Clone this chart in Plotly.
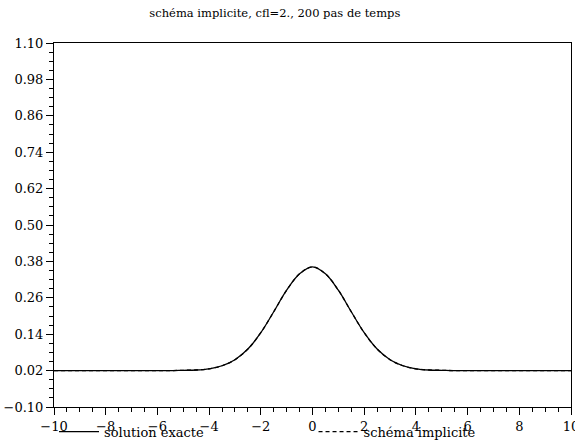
import plotly.graph_objects as go

# values
x_vals = [-10, -9, -8, -7, -6, -5.5, -5, -4.5, -4, -3.5, -3, -2.5, -2, -1.5, -1, -0.5,
          0, 0.5, 1, 1.5, 2, 2.5, 3, 3.5, 4, 4.5, 5, 5.5, 6, 7, 8, 9, 10]
exact = [0.020, 0.020, 0.020, 0.020, 0.020, 0.020, 0.021, 0.022, 0.026, 0.036, 0.056, 0.091,
         0.145, 0.214, 0.285, 0.339, 0.362, 0.339, 0.285, 0.214, 0.145, 0.091, 0.056, 0.036,
         0.026, 0.022, 0.021, 0.020, 0.020, 0.020, 0.020, 0.020, 0.020]
implicit = [0.020, 0.020, 0.020, 0.020, 0.020, 0.020, 0.021, 0.022, 0.026, 0.036, 0.056, 0.091,
            0.145, 0.214, 0.285, 0.339, 0.362, 0.339, 0.285, 0.214, 0.145, 0.091, 0.056, 0.036,
            0.026, 0.022, 0.021, 0.020, 0.020, 0.020, 0.020, 0.020, 0.020]

y_ticks = [-0.10, 0.02, 0.14, 0.26, 0.38, 0.50, 0.62, 0.74, 0.86, 0.98, 1.10]
y_labels = ["\u22120.10", "0.02", "0.14", "0.26", "0.38", "0.50", "0.62", "0.74", "0.86", "0.98", "1.10"]
x_ticks = [-10, -8, -6, -4, -2, 0, 2, 4, 6, 8, 10]
x_labels = ["\u221210", "\u22128", "\u22126", "\u22124", "\u22122", "0", "2", "4", "6", "8", "10"]

FONT = "DejaVu Serif"

fig = go.Figure()
fig.add_trace(go.Scatter(x=x_vals, y=exact, mode="lines", name="solution exacte",
                         legend="legend",
                         line=dict(color="black", width=1.3, shape="spline")))
fig.add_trace(go.Scatter(x=x_vals, y=implicit, mode="lines", name="schéma implicite",
                         legend="legend2",
                         line=dict(color="black", width=1.3, dash="4px,3px", shape="spline")))

leg_common = dict(orientation="h", yanchor="middle", y=-0.068, xanchor="left",
                  itemwidth=40, font=dict(family=FONT, size=13, color="black"),
                  bgcolor="rgba(0,0,0,0)")

fig.update_layout(
    width=575, height=441,
    margin=dict(l=54, r=4, t=43, b=34, autoexpand=False),
    paper_bgcolor="white", plot_bgcolor="white",
    font=dict(family=FONT, size=13, color="black"),
    title=dict(text="schéma implicite, cfl=2., 200 pas de temps", x=0.478, xanchor="center",
               y=0.971, yanchor="middle", font=dict(family=FONT, size=11.5, color="black")),
    showlegend=True,
    legend=dict(x=0.0, **leg_common),
    legend2=dict(x=0.502, **leg_common),
)
fig.update_xaxes(range=[-10, 10], tickvals=x_ticks, ticktext=x_labels,
                 showline=True, linecolor="black", linewidth=1, mirror=True,
                 ticks="outside", ticklen=7, tickcolor="black", showgrid=False, zeroline=False,
                 ticklabeloverflow="allow", automargin=False,
                 tickfont=dict(family=FONT, size=13, color="black"),
                 minor=dict(dtick=0.5, tick0=-10, ticks="outside", ticklen=4, tickcolor="black", showgrid=False))
fig.update_yaxes(range=[-0.10, 1.10], tickvals=y_ticks, ticktext=y_labels,
                 showline=True, linecolor="black", linewidth=1, mirror=True,
                 ticks="outside", ticklen=7, tickcolor="black", showgrid=False, zeroline=False,
                 automargin=False,
                 tickfont=dict(family=FONT, size=13, color="black"),
                 minor=dict(dtick=0.03, tick0=-0.10, ticks="outside", ticklen=4, tickcolor="black", showgrid=False))

fig.write_html("out.html")
